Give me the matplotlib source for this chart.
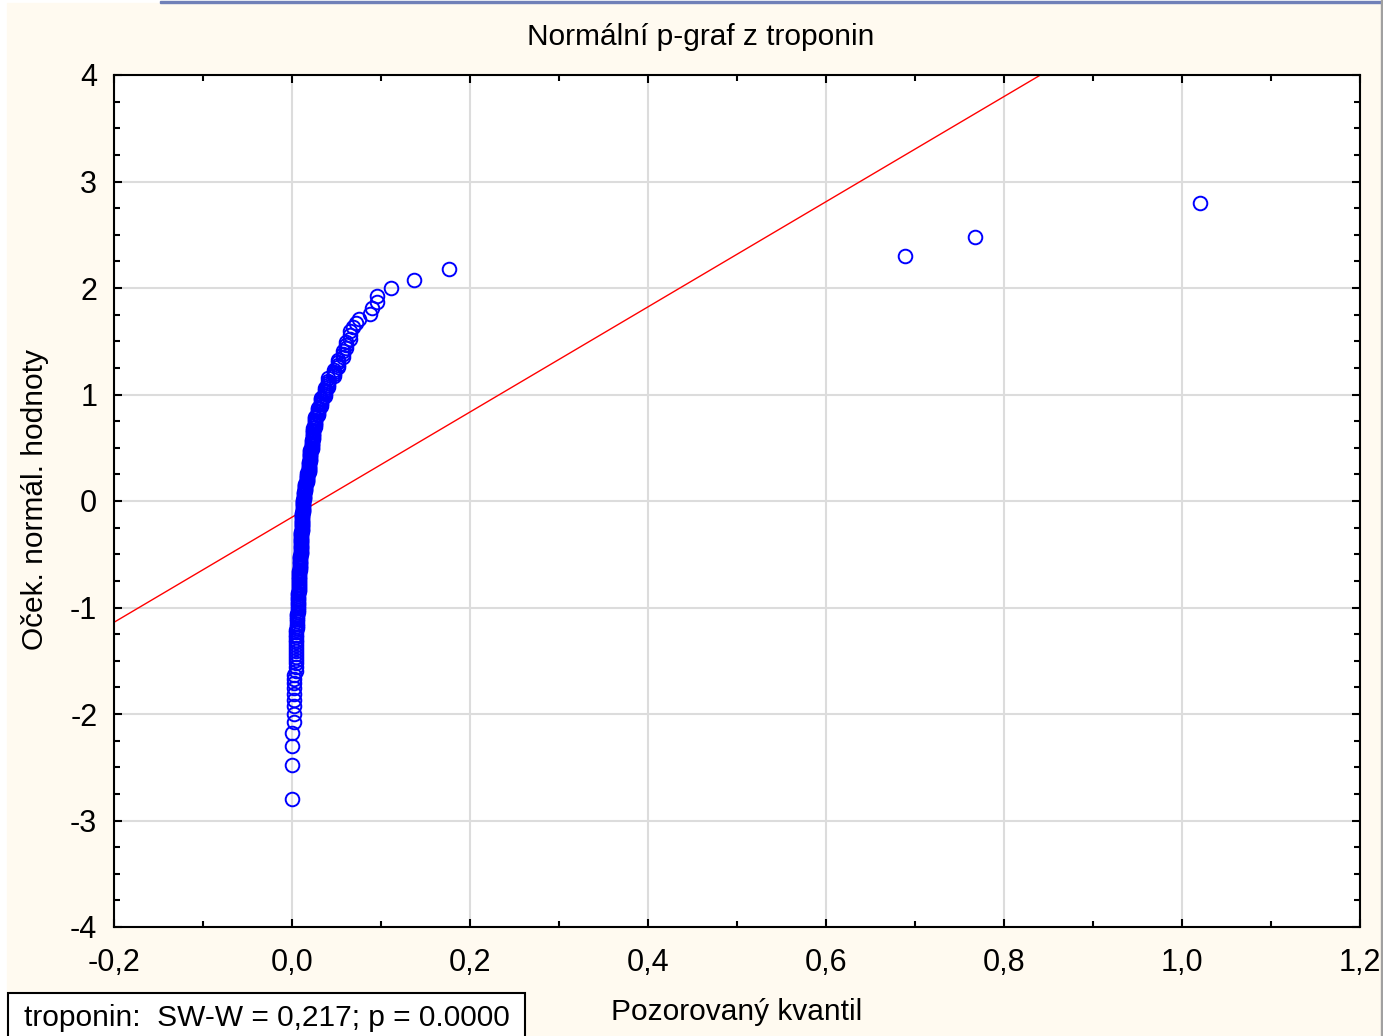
import numpy as np
import matplotlib
matplotlib.use("Agg")
import matplotlib.pyplot as plt
from matplotlib.patches import Rectangle
from statistics import NormalDist

# troponin values (sorted), with how many times each occurs
tropo_values = [0.000, 0.002, 0.004, 0.005, 0.006, 0.007, 0.008, 0.009, 0.010,
                0.011, 0.012, 0.014, 0.015, 0.017, 0.019, 0.020, 0.022, 0.024,
                0.026, 0.029, 0.033, 0.037, 0.041, 0.047, 0.052, 0.057, 0.061,
                0.065, 0.068, 0.072, 0.075, 0.088, 0.090, 0.095, 0.096, 0.111,
                0.137, 0.176, 0.689, 0.767, 1.020]
tropo_counts = [4, 9, 7, 8, 8, 12, 15, 12, 20,
                17, 12, 7, 8, 9, 10, 10, 8, 9,
                8, 6, 6, 5, 5, 4, 4, 3, 3,
                3, 1, 1, 1, 1, 1, 1, 1, 1,
                1, 1, 1, 1, 1]

x_ticks = [-0.2, 0.0, 0.2, 0.4, 0.6, 0.8, 1.0, 1.2]
y_ticks = [-4, -3, -2, -1, 0, 1, 2, 3, 4]
title = "Normální p-graf z troponin"
xlab = "Pozorovaný kvantil"
ylab = "Oček. normál. hodnoty"
stat_text = "troponin:  SW-W = 0,217; p = 0.0000"

# observed quantiles vs expected normal values (Blom positions)
obs = np.repeat(tropo_values, tropo_counts)
n = len(obs)
nd = NormalDist()
expected = np.array([nd.inv_cdf((j - 0.375) / (n + 0.25)) for j in range(1, n + 1)])
slope, icpt = np.polyfit(obs, expected, 1)

plt.rcParams['font.family'] = ['Liberation Sans', 'DejaVu Sans']
plt.rcParams['axes.unicode_minus'] = False

W, H = 1383, 1036
fig = plt.figure(figsize=(W / 100, H / 100), dpi=100, facecolor='white')

# window frame of the screenshot
fig.patches.append(Rectangle((7 / W, 0), (1381 - 7) / W, (H - 3) / H,
                             transform=fig.transFigure, color='#fffaf0', zorder=-5))
fig.patches.append(Rectangle((160 / W, (H - 3) / H), (W - 160) / W, 1.5 / H,
                             transform=fig.transFigure, color='#7080b8', zorder=-4))
fig.patches.append(Rectangle((1381 / W, 0), 2 / W, 1,
                             transform=fig.transFigure, color='#a0a0a0', zorder=-4))

ax = fig.add_axes([114 / W, (H - 927) / H, (1360 - 114) / W, (927 - 75) / H])
ax.set_facecolor('white')

xl = np.array([-0.2, 1.2])
ax.plot(xl, icpt + slope * xl, color='red', lw=1.0, zorder=2)
ax.plot(obs, expected, 'o', ms=9.8, mfc='none', mec='#0000ff', mew=1.4, zorder=3)

ax.set_xlim(-0.2, 1.2)
ax.set_ylim(-4, 4)
ax.set_xticks(x_ticks)
ax.set_xticklabels([f"{v:.1f}".replace('.', ',') for v in x_ticks])
ax.set_yticks(y_ticks)
ax.set_yticklabels([str(v) for v in y_ticks])
ax.set_xticks(np.arange(-0.1, 1.2, 0.2), minor=True)
ax.set_yticks(np.arange(-4, 4.01, 0.25), minor=True)
ax.tick_params(which='both', direction='in', top=True, right=True, width=1.5, color='black')
ax.tick_params(which='major', length=6, labelsize=22)
ax.tick_params(which='minor', length=4)
ax.tick_params(axis='x', pad=15)
ax.tick_params(axis='y', pad=12)
ax.grid(True, which='major', color='#dcdcdc', lw=1.5)
ax.set_axisbelow(True)
for sp in ax.spines.values():
    sp.set_linewidth(1.5)
    sp.set_color('black')

fig.text(701 / W, 1 - 37 / H, title, ha='center', va='center', fontsize=21.5)
fig.text(737 / W, 1 - 1012 / H, xlab, ha='center', va='center', fontsize=21.5)
fig.text(35 / W, 1 - 500 / H, ylab, ha='center', va='center', rotation=90, fontsize=21.5)

fig.patches.append(Rectangle((8 / W, -0.01), (525 - 8) / W, (H - 993) / H + 0.01,
                             transform=fig.transFigure, facecolor='white',
                             edgecolor='black', lw=1.5, zorder=5))
fig.text(24 / W, 1 - 1018 / H, stat_text, ha='left', va='center', fontsize=21.5, zorder=6)

fig.savefig("out.png", dpi=100, facecolor=fig.get_facecolor())
